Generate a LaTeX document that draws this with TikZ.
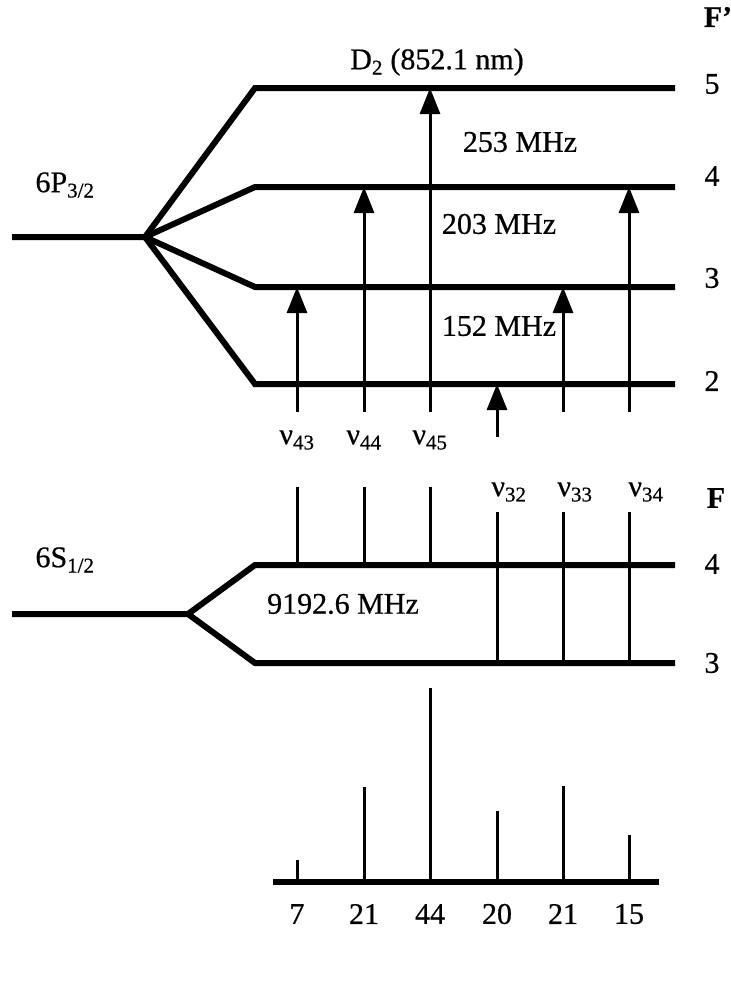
\documentclass[tikz,border=0pt]{standalone}
\usepackage{fontspec}
\setmainfont{Liberation Serif}[FakeBold=0.6]
\usetikzlibrary{arrows.meta}

\begin{document}
\begin{tikzpicture}
[x=1pt,y=-1pt,font=\fontsize{30}{34}\selectfont,
 level/.style={line width=6pt},
 thin line/.style={line width=3pt},
 up/.style={line width=3pt,-{Triangle[length=26pt,width=20pt]}}]
\useasboundingbox (0,0) rectangle (731,986);
% Nodes of the diagram

\node (Fp)  at (718,17)  {\textbf{F'}};
\node (D2)  at (437,62)  {D\textsubscript{2} (852.1 nm)};
\node (P)   at (65,185)  {6P\textsubscript{3/2}};
\node (S)   at (65,560)  {6S\textsubscript{1/2}};
\node (Fg)  at (716,498) {\textbf{F}};

\node (L5)  at (712,84)  {5};
\node (L4)  at (712,176) {4};
\node (L3)  at (712,278) {3};
\node (L2)  at (712,381) {2};
\node (G4)  at (712,564) {4};
\node (G3)  at (712,663) {3};

\node (M253) at (520,142) {253 MHz};
\node (M203) at (499,224) {203 MHz};
\node (M152) at (499,326) {152 MHz};
\node (M9192) at (343,604) {9192.6 MHz};

\node (n43) at (297,440) {ν\textsubscript{43}};
\node (n44) at (364,440) {ν\textsubscript{44}};
\node (n45) at (430,440) {ν\textsubscript{45}};
\node (n32) at (509,492) {ν\textsubscript{32}};
\node (n33) at (575,492) {ν\textsubscript{33}};
\node (n34) at (646,492) {ν\textsubscript{34}};

% levels
\coordinate (Pb) at (145,237);
\coordinate (Pl) at (12,237);
\coordinate (E5a) at (255,88);  \coordinate (E5b) at (675,88);
\coordinate (E4a) at (255,187); \coordinate (E4b) at (675,187);
\coordinate (E3a) at (255,287); \coordinate (E3b) at (675,287);
\coordinate (E2a) at (255,384); \coordinate (E2b) at (675,384);
\coordinate (Sb) at (188,614);
\coordinate (Sl) at (12,614);
\coordinate (H4a) at (255,565); \coordinate (H4b) at (675,565);
\coordinate (H3a) at (255,663); \coordinate (H3b) at (675,663);

\draw[level] (Pl) -- (Pb) -- (E5a) -- (E5b);
\draw[level] (Pb) -- (E4a) -- (E4b);
\draw[level] (Pb) -- (E3a) -- (E3b);
\draw[level] (Pb) -- (E2a) -- (E2b);
\draw[level] (Sl) -- (Sb) -- (H4a) -- (H4b);
\draw[level] (Sb) -- (H3a) -- (H3b);

% transitions
\coordinate (a43) at (297,412); \coordinate (t43) at (297,287);
\coordinate (a44) at (364,412); \coordinate (t44) at (364,187);
\coordinate (a45) at (430,412); \coordinate (t45) at (430,88);
\coordinate (a32) at (497,437); \coordinate (t32) at (497,384);
\coordinate (a33) at (563,412); \coordinate (t33) at (563,287);
\coordinate (a34) at (629,412); \coordinate (t34) at (629,187);
\draw[up] (a43) -- (t43);
\draw[up] (a44) -- (t44);
\draw[up] (a45) -- (t45);
\draw[up] (a32) -- (t32);
\draw[up] (a33) -- (t33);
\draw[up] (a34) -- (t34);

\coordinate (b43) at (297,487); \coordinate (g43) at (297,565);
\coordinate (b44) at (364,487); \coordinate (g44) at (364,565);
\coordinate (b45) at (430,487); \coordinate (g45) at (430,565);
\coordinate (b32) at (497,512); \coordinate (g32) at (497,663);
\coordinate (b33) at (563,512); \coordinate (g33) at (563,663);
\coordinate (b34) at (629,512); \coordinate (g34) at (629,663);
\draw[thin line] (b43) -- (g43);
\draw[thin line] (b44) -- (g44);
\draw[thin line] (b45) -- (g45);
\draw[thin line] (b32) -- (g32);
\draw[thin line] (b33) -- (g33);
\draw[thin line] (b34) -- (g34);

% spectrum
\coordinate (Ba) at (273,882); \coordinate (Bb) at (659,882);
\draw[level] (Ba) -- (Bb);
\coordinate (s1) at (297,860); \coordinate (z1) at (297,882);
\coordinate (s2) at (364,787); \coordinate (z2) at (364,882);
\coordinate (s3) at (430,688); \coordinate (z3) at (430,882);
\coordinate (s4) at (497,811); \coordinate (z4) at (497,882);
\coordinate (s5) at (563,786); \coordinate (z5) at (563,882);
\coordinate (s6) at (629,835); \coordinate (z6) at (629,882);
\draw[thin line] (s1) -- (z1);
\draw[thin line] (s2) -- (z2);
\draw[thin line] (s3) -- (z3);
\draw[thin line] (s4) -- (z4);
\draw[thin line] (s5) -- (z5);
\draw[thin line] (s6) -- (z6);

\node (w1) at (297,914) {7};
\node (w2) at (364,914) {21};
\node (w3) at (430,914) {44};
\node (w4) at (497,914) {20};
\node (w5) at (563,914) {21};
\node (w6) at (629,914) {15};
\end{tikzpicture}
\end{document}
